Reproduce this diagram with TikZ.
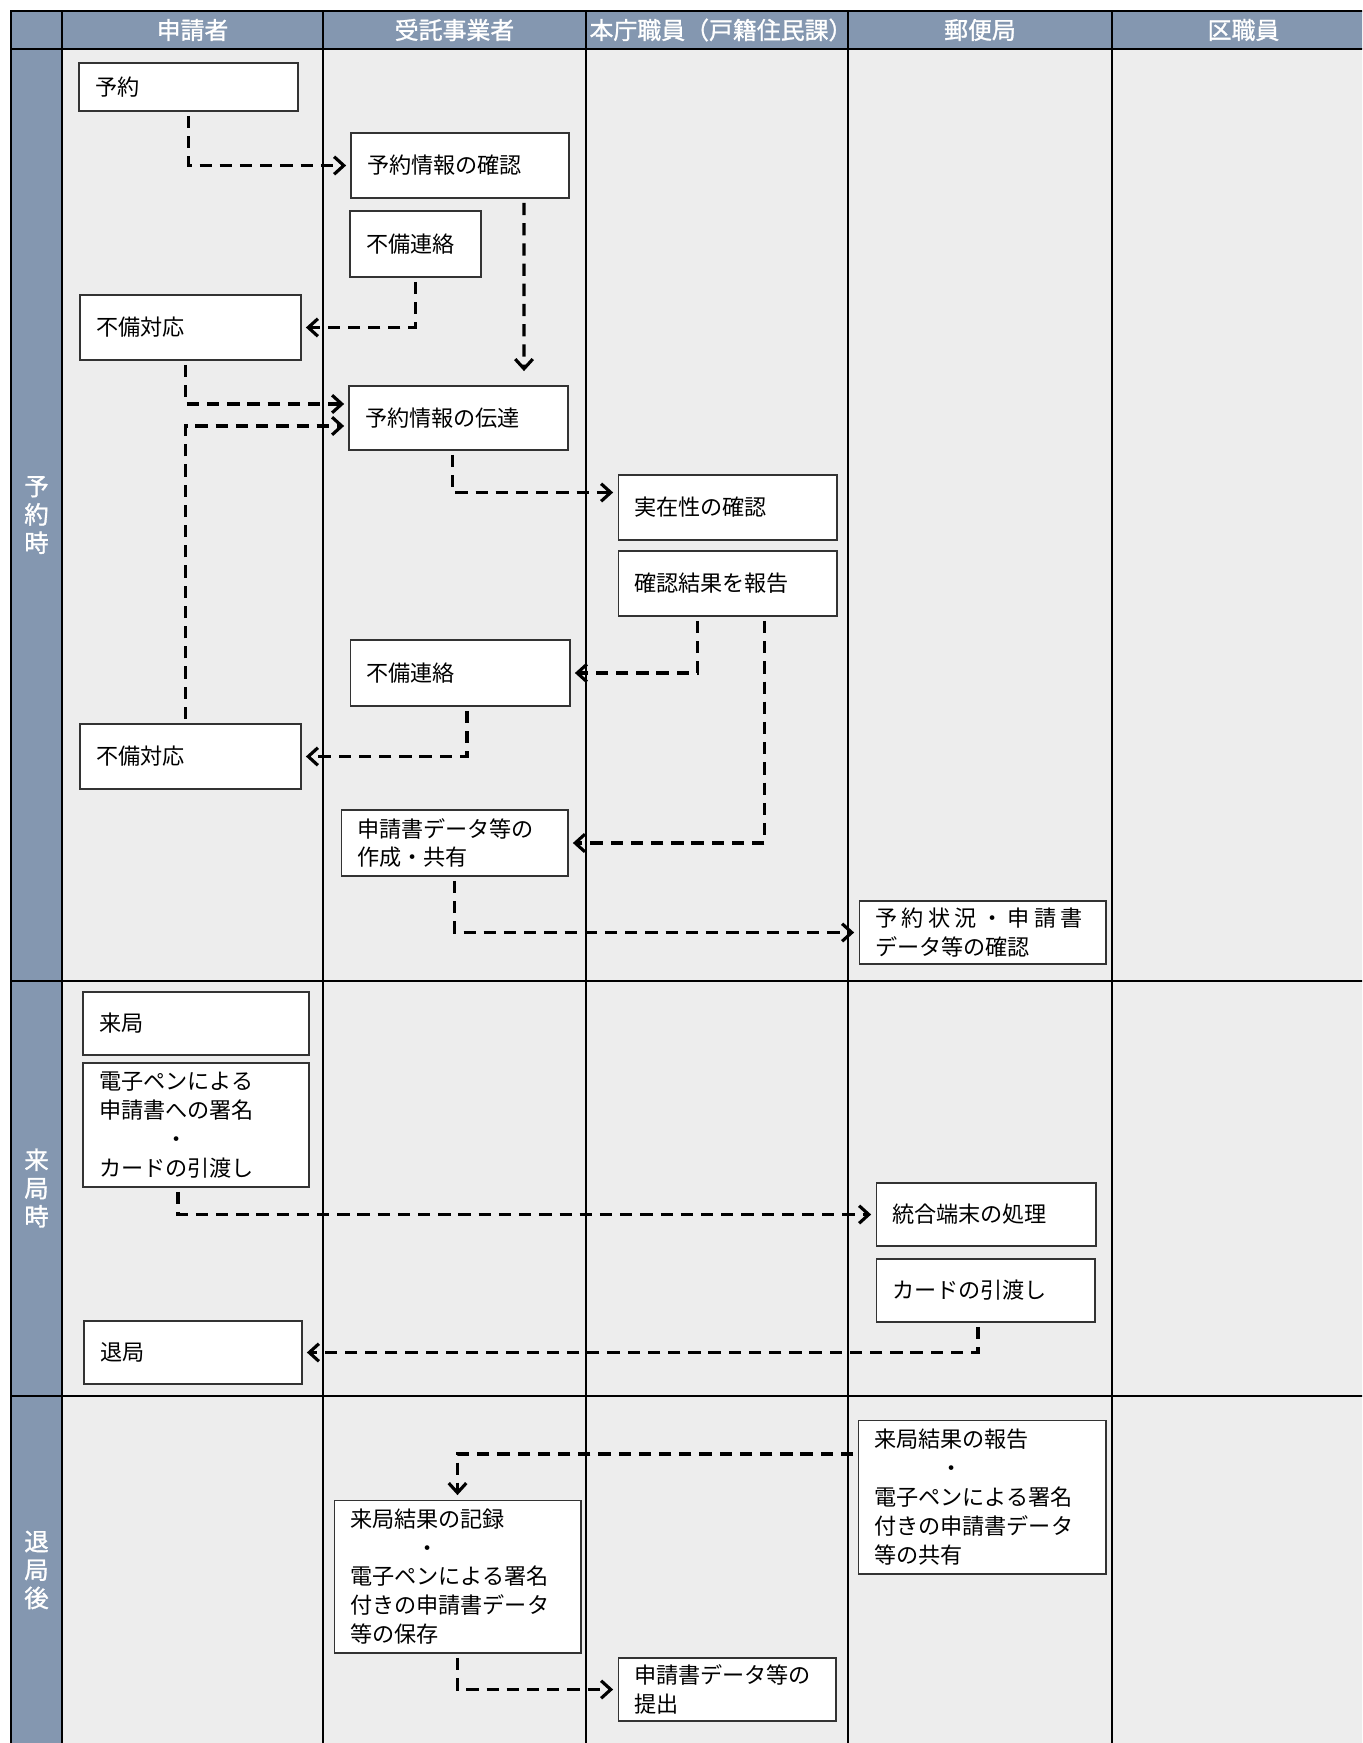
\documentclass[tikz,border=0pt]{standalone}
\usepackage{fontspec}
\setmainfont{Noto Sans CJK JP}
\usetikzlibrary{arrows.meta,calc}
\definecolor{headblue}{HTML}{8497B0}
\definecolor{lanegray}{HTML}{EDEDED}
\begin{document}
\begin{tikzpicture}[x=0.02cm,y=-0.02cm,
box/.style={draw=black!80,line width=0.6pt,fill=white,rectangle,align=left,inner xsep=0.32cm,inner ysep=0pt,font=\fontsize{12.6}{16.4}\selectfont},
flow/.style={line width=1.8pt,dash pattern=on 7pt off 4.5pt,-{Straight Barb[length=5.5pt,width=10pt]},shorten <=2.5pt,shorten >=2.5pt},
head/.style={text=white,font=\fontsize{13.6}{16.1}\selectfont\addfontfeature{FakeBold=1.2}},
rowlabel/.style={text=white,align=center,font=\fontsize{13.9}{16.1}\selectfont\addfontfeature{FakeBold=1.2}}]
\useasboundingbox (0,0) rectangle (1362,1743);
\clip (0,0) rectangle (1362,1743);
\fill[lanegray] (62,49) rectangle (1380,1760);
\fill[headblue] (11,11) rectangle (1380,49);
\fill[headblue] (11,49) rectangle (62,1760);
\draw[line width=1pt] (323,11) -- (323,1760);
\draw[line width=1pt] (586,11) -- (586,1760);
\draw[line width=1pt] (848,11) -- (848,1760);
\draw[line width=1pt] (1112,11) -- (1112,1760);
\draw[line width=1.2pt] (62,11) -- (62,1760);
\draw[line width=1pt] (11,49) -- (1380,49);
\draw[line width=1.4pt] (11,981) -- (1380,981);
\draw[line width=1.4pt] (11,1396) -- (1380,1396);
\draw[line width=1.5pt] (11,1760) -- (11,11) -- (1380,11);
\node[head] (H1) at (192.5,30) {申請者};
\node[head] (H2) at (454.5,30) {受託事業者};
\node[head] (H3) at (721,30) {本庁職員（戸籍住民課）};
\node[head] (H4) at (980,30) {郵便局};
\node[head] (H5) at (1243.5,30) {区職員};
\node[rowlabel] (L1) at (36.5,515) {予\\約\\時};
\node[rowlabel] (L2) at (36.5,1188) {来\\局\\時};
\node[rowlabel] (L3) at (36.5,1570) {退\\局\\後};
\node[box,text width=3.74cm,minimum height=0.96cm] (yoyaku) at (188.5,87) {予約};
\node[box,text width=3.72cm,minimum height=1.30cm] (kakunin) at (460,165.5) {予約情報の確認};
\node[box,text width=1.98cm,minimum height=1.32cm] (fubi1) at (415.5,244) {不備連絡};
\node[box,text width=3.78cm,minimum height=1.30cm] (taiou1) at (190.5,327.5) {不備対応};
\node[box,text width=3.74cm,minimum height=1.28cm] (dentatsu) at (458.5,418) {予約情報の伝達};
\node[box,text width=3.74cm,minimum height=1.30cm] (jitsuzai) at (727.5,507.5) {実在性の確認};
\node[box,text width=3.74cm,minimum height=1.30cm] (houkoku) at (727.5,583.5) {確認結果を報告};
\node[box,text width=3.76cm,minimum height=1.32cm] (fubi2) at (460,673) {不備連絡};
\node[box,text width=3.78cm,minimum height=1.30cm] (taiou2) at (190.5,756.5) {不備対応};
\node[box,text width=3.90cm,minimum height=1.32cm] (sakusei) at (454.5,843) {申請書データ等の\\作成・共有};
\node[box,text width=4.30cm,minimum height=1.26cm] (joukyou) at (982.5,932.5) {{\addfontfeature{LetterSpace=20}予約状況・申請書}\\データ等の確認};
\node[box,text width=3.88cm,minimum height=1.26cm] (raikyoku) at (196,1023.5) {来局};
\node[box,text width=3.88cm,minimum height=2.48cm] (shomei) at (196,1125) {電子ペンによる\\申請書への署名\\\hspace*{3em}・\\カードの引渡し};
\node[box,text width=3.76cm,minimum height=1.26cm] (tanmatsu) at (986,1214.5) {統合端末の処理};
\node[box,text width=3.74cm,minimum height=1.26cm] (hikiwatashi) at (985.5,1290.5) {カードの引渡し};
\node[box,text width=3.72cm,minimum height=1.26cm] (taikyoku) at (193,1352.5) {退局};
\node[box,text width=4.32cm,minimum height=3.08cm] (kekka) at (982,1497) {来局結果の報告\\\hspace*{3em}・\\電子ペンによる署名\\付きの申請書データ\\等の共有};
\node[box,text width=4.30cm,minimum height=3.06cm] (kiroku) at (457.5,1576.5) {来局結果の記録\\\hspace*{3em}・\\電子ペンによる署名\\付きの申請書データ\\等の保存};
\node[box,text width=3.72cm,minimum height=1.26cm] (teishutsu) at (727,1689.5) {申請書データ等の\\提出};
\draw[flow] (yoyaku.south) |- (kakunin.west);
\draw[flow] ($(kakunin.south)+(64,0)$) -- ($(dentatsu.north)+(65.5,-10)$);
\draw[flow] (fubi1.south) |- (taiou1.east);
\draw[flow] ($(taiou1.south)+(-5,0)$) |- ($(dentatsu.west)+(0,-14)$);
\draw[flow] ($(taiou2.north)+(-5,0)$) |- ($(dentatsu.west)+(0,8)$);
\draw[flow] ($(dentatsu.south)+(-6,0)$) |- ($(jitsuzai.west)+(0,-15)$);
\draw[flow] ($(houkoku.south)+(-30,0)$) |- (fubi2.east);
\draw[flow] ($(houkoku.south)+(37,0)$) |- (sakusei.east);
\draw[flow] ($(fubi2.south)+(7,0)$) |- (taiou2.east);
\draw[flow] (sakusei.south) |- (joukyou.west);
\draw[flow] ($(shomei.south)+(-18,0)$) |- (tanmatsu.west);
\draw[flow] ($(hikiwatashi.south)+(-7.5,0)$) |- (taikyoku.east);
\draw[flow] ($(kekka.west)+(0,-43)$) -| (kiroku.north);
\draw[flow] (kiroku.south) |- (teishutsu.west);
\end{tikzpicture}
\end{document}
